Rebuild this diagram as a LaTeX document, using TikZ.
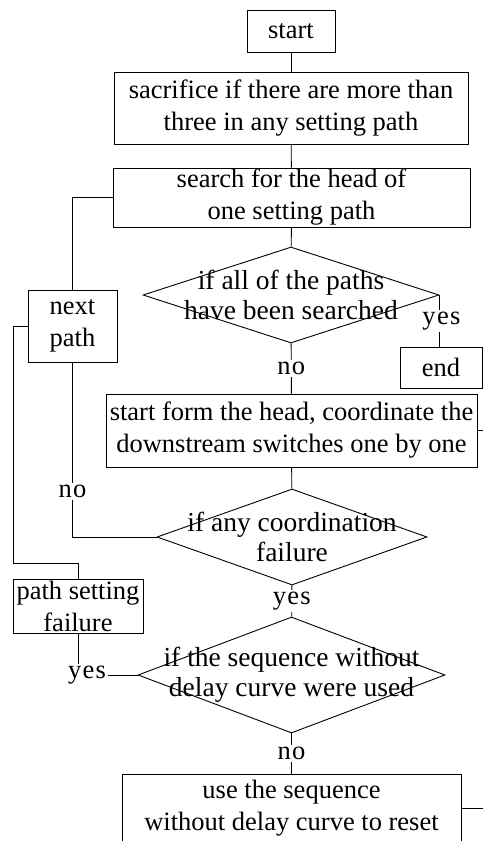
\documentclass[tikz,border=0pt]{standalone}
\usepackage{fontspec}
\setmainfont{Liberation Serif}
\newfontfamily\lblfont[LetterSpace=5]{Liberation Serif}
\usetikzlibrary{shapes.geometric}

\tikzset{box/.style={draw,line width=0.9pt,inner sep=0pt,align=center,font=\fontsize{26.5}{32}\selectfont},
  decision/.style={draw,diamond,line width=0.9pt,inner sep=0pt},
  txt/.style={align=center,inner sep=0pt,font=\fontsize{27.5}{30}\selectfont},
  lbl/.style={fill=white,inner sep=2pt,font=\lblfont\fontsize{26.5}{30}\selectfont},
  link/.style={line width=0.9pt}}

\begin{document}
\begin{tikzpicture}[x=1pt,y=-1pt]
        \useasboundingbox (0,0) rectangle (483,841);
        \clip (0,0) rectangle (483,841);
        % main column
        \node[box,minimum width=88pt,minimum height=42pt] (start) at (291,31) {start};
        \node[box,minimum width=354pt,minimum height=72pt] (sacr) at (291,108) {sacrifice if there are more than\\three in any setting path};
        \node[box,minimum width=357pt,minimum height=59pt] (search) at (291.5,197.5) {search for the head of\\one setting path};
        \node[decision,minimum width=296pt,minimum height=96pt,label={[txt]center:{if all of the paths\\have been searched}}] (alldone) at (291,295) {};
        \node[box,minimum width=82pt,minimum height=41pt] (end) at (441,367.5) {end};
        \node[box,minimum width=371pt,minimum height=73pt] (form) at (291.5,430.5) {start form the head, coordinate the\\downstream switches one by one};
        \node[decision,minimum width=270pt,minimum height=96pt,label={[txt]center:{if any coordination\\failure}}] (fail) at (292,537) {};
        \node[decision,minimum width=307pt,minimum height=116pt,label={[txt]center:{if the sequence without\\delay curve were used}}] (useold) at (291.5,675) {};
        \node[box,minimum width=339pt,minimum height=68pt] (reset) at (291.5,808) {use the sequence\\without delay curve to reset};
        % left column
        \node[box,minimum width=89pt,minimum height=72pt] (next) at (72.5,326) {next\\path};
        \node[box,minimum width=130pt,minimum height=54pt] (pfail) at (78,606) {path setting\\failure};
        \node[lbl] (yes3) at (87,675) {yes};
        \coordinate (formout) at (483,430.5);
        \coordinate (resetout) at (483,808);

        \draw[link] (start) -- (sacr);
        \draw[link] (sacr) -- (search);
        \draw[link] (search) -- (alldone);
        \draw[link] (alldone.east) -- node[lbl,pos=0.5,xshift=2pt]{yes} (alldone.east |- end.north);
        \draw[link] (alldone) -- node[lbl]{no} (form);
        \draw[link] (form) -- (fail);
        \draw[link] (fail) -- node[lbl]{yes} (useold);
        \draw[link] (useold) -- node[lbl]{no} (reset);
        \draw[link] (form.east) -- (formout);
        \draw[link] (reset.east) -- (resetout);
        \draw[link] (search.west) -| (next.north);
        \draw[link] (next.south) |- node[lbl,pos=0.37]{no} (fail.west);
        \draw[link] (pfail.north) |- (13,563) |- (next.west);
        \draw[link] (useold.west) -- (yes3);
        \draw[link] (pfail.south) -- (pfail.south |- yes3.north);
    \end{tikzpicture}
\end{document}
